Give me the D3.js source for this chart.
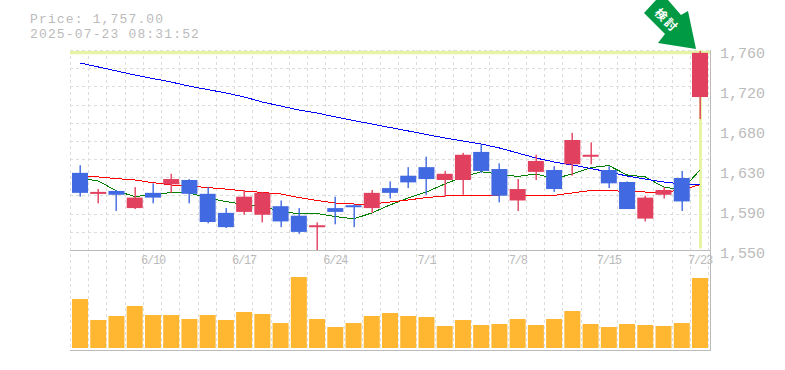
<!DOCTYPE html>
<html>
<head>
<meta charset="utf-8">
<script src="https://cdn.jsdelivr.net/npm/d3@7"></script>
<style>
  html, body { margin: 0; padding: 0; background: #fff; overflow: hidden; }
  text { font-family: "Liberation Mono", monospace; fill: #bbb; }
  .grid { stroke: #ddd; stroke-width: 1; stroke-dasharray: 3 3; shape-rendering: crispEdges; }
</style>
</head>
<body>
<div id="chart"></div>
<script>
const W = 785, H = 370;

const dates = ['6/4','6/5','6/6','6/9','6/10','6/11','6/12','6/13','6/16','6/17','6/18','6/19','6/20','6/23','6/24','6/25','6/26','6/27','6/30','7/1','7/2','7/3','7/4','7/7','7/8','7/9','7/10','7/11','7/14','7/15','7/16','7/17','7/18','7/22','7/23'];
const dateLabels = ['6/10','6/17','6/24','7/1','7/8','7/15','7/23'];

const open  = [1631,1609,1612,1594,1610,1619,1623.5,1609,1589,1590,1587,1596,1586,1574,1594,1597,1594,1615,1628,1637,1623.5,1623.5,1653,1635,1602,1632,1634,1640,1648,1634,1621.4,1583,1608,1625.6,1710.6];
const close = [1610,1611,1608,1605,1605,1624.5,1609,1579.4,1574,1606,1610,1580,1569,1576,1590,1595,1610,1610,1621,1624.5,1630,1650,1633,1607,1614,1643.5,1614,1665.5,1650,1620,1593,1605,1613,1601,1757];
const high  = [1639,1614,1613,1616,1620,1630,1624.5,1616,1594,1613,1611,1602,1594,1579,1606,1598,1613,1622,1637,1648,1633,1652,1661,1641,1624.5,1650,1638,1673,1663,1638,1622,1607,1616,1633,1759];
const low   = [1606,1599,1591,1593,1599,1610,1599,1578,1573,1587,1579,1574,1567,1550,1577,1574,1589,1604,1615,1608,1606,1608,1631,1600,1591,1623.5,1611,1628,1640,1615,1593,1580,1604,1591,1687.5];

const maShort = [1625.6,1622.5,1612,1606.2,1607.8,1610.4,1609.9,1604.6,1600.9,1597.8,1595.2,1591,1587.8,1588.3,1585.2,1582.6,1588.9,1597.3,1604.6,1610.9,1619.3,1626.7,1632.2,1629.8,1627.2,1629.8,1624.9,1629.8,1636.4,1638.7,1628.8,1626.7,1616.2,1613,1634];
const maMid   = [1627.2,1626.7,1625,1623.5,1620.7,1618.3,1617.2,1615.6,1614,1612,1610.4,1608.8,1605.1,1602,1599.4,1598.3,1598.3,1600.4,1602.5,1605.1,1606.7,1607,1607,1606.7,1606.7,1607,1607.4,1609.9,1612.5,1612.5,1611.4,1610.9,1610.9,1613,1618.6];
const maLong  = [1746.4,1742.2,1738,1733.8,1730,1726.4,1722,1718.5,1714.9,1710.7,1705.4,1701.2,1697,1693.9,1689.7,1686,1682.3,1678.6,1675,1671.3,1667.6,1664.5,1661.3,1657.1,1651.9,1646.6,1642.4,1639.3,1635.6,1631.9,1627.7,1624.5,1621.4,1619.3,1619.3];

const volume = [49,28,32,42,33,33,29,33,28,36,34,25,71,29,21,25,32,35,32,31,22,28,23,24,29,23,29,37,24,21,24,23,22,25,70];

const priceTicks = [1760,1718,1676,1634,1592,1550];
const priceTickLabels = ['1,760','1,720','1,680','1,630','1,590','1,550'];
const lastPrice = 1757;

const UP = '#e2405f', DOWN = '#4169e1';
const LEFT = 70, RIGHT = 710, TOP = 50, MID = 250, VOL_BASE = 348, BOTTOM = 350;

const svg = d3.select('#chart').append('svg').attr('width', W).attr('height', H);

const x = d3.scaleBand().domain(dates).range([LEFT + 0.9, RIGHT - 0.9]).paddingInner(0).paddingOuter(0);
const cx = d => x(d) + x.bandwidth() / 2;
const y = d3.scaleLinear().domain([1550, 1760]).range([MID, TOP]);
const yVol = d3.scaleLinear().domain([0, 100]).range([VOL_BASE, VOL_BASE - 100]);

// grid
const gridCols = d3.range(dates.length + 1).map(i => Math.round(LEFT + i * x.step()));
svg.append('g').selectAll('line').data(gridCols).join('line')
  .attr('class', 'grid')
  .attr('x1', d => d).attr('x2', d => d)
  .attr('y1', TOP).attr('y2', BOTTOM);
const gridRows = d3.range(0, 11).map(i => Math.round(TOP + i * (MID - TOP) / 11));
svg.append('g').selectAll('line').data(gridRows).join('line')
  .attr('class', 'grid')
  .attr('x1', LEFT).attr('x2', RIGHT)
  .attr('y1', d => d).attr('y2', d => d);

// last price crosshair
svg.append('rect').attr('x', LEFT).attr('y', y(lastPrice) - 2)
  .attr('width', RIGHT - LEFT).attr('height', 3.4).attr('fill', '#e6f5a5');
svg.append('rect').attr('x', cx('7/23') - 1).attr('y', TOP)
  .attr('width', 3).attr('height', 198.5).attr('fill', '#e6f5a5');

// frame
const frame = svg.append('g').attr('stroke', '#bbb').attr('shape-rendering', 'crispEdges');
frame.append('line').attr('x1', LEFT).attr('x2', RIGHT).attr('y1', MID + 0.5).attr('y2', MID + 0.5);
frame.append('line').attr('x1', LEFT).attr('x2', RIGHT).attr('y1', BOTTOM + 0.5).attr('y2', BOTTOM + 0.5);
frame.append('line').attr('x1', RIGHT + 0.5).attr('x2', RIGHT + 0.5).attr('y1', TOP).attr('y2', BOTTOM + 1);

// volume
svg.append('g').selectAll('rect').data(dates).join('rect')
  .attr('x', d => cx(d) - 8)
  .attr('width', 16)
  .attr('y', (d, i) => yVol(volume[i]))
  .attr('height', (d, i) => VOL_BASE - yVol(volume[i]))
  .attr('fill', '#ffb732');

// moving averages, stair stepped like the original
const line = d3.line().x((d, i) => cx(dates[i])).y(d => y(d));
[[maShort, 'green'], [maMid, 'red'], [maLong, 'blue']].forEach(([s, c]) => {
  svg.append('path').attr('d', line(s)).attr('fill', 'none').attr('stroke', c)
    .attr('stroke-width', 1).attr('shape-rendering', 'crispEdges');
});

// candles
const candles = svg.append('g').selectAll('g').data(dates).join('g')
  .attr('fill', (d, i) => close[i] >= open[i] ? UP : DOWN);
candles.append('rect')
  .attr('x', d => Math.round(cx(d)) - 0.5).attr('width', 1.4)
  .attr('y', (d, i) => y(high[i]))
  .attr('height', (d, i) => y(low[i]) - y(high[i]));
candles.append('rect')
  .attr('x', d => cx(d) - 8).attr('width', 16)
  .attr('y', (d, i) => y(Math.max(open[i], close[i])))
  .attr('height', (d, i) => Math.max(2, Math.abs(y(open[i]) - y(close[i]))));

// price axis labels (sit just under their tick)
svg.append('g').selectAll('text').data(priceTicks).join('text')
  .attr('x', 720).attr('y', d => y(d) + 8)
  .style('font-size', '15px')
  .text((d, i) => priceTickLabels[i]);

// date labels
svg.append('g').selectAll('text').data(dateLabels).join('text')
  .attr('x', d => cx(d)).attr('y', 264)
  .attr('text-anchor', 'middle')
  .style('font-size', '12px').style('letter-spacing', '-1.2px')
  .text(d => d);

// header
svg.append('text').attr('x', 30).attr('y', 22.5)
  .style('font-size', '13px').style('letter-spacing', '1.15px').text('Price: 1,757.00');
svg.append('text').attr('x', 30).attr('y', 37.5)
  .style('font-size', '13px').style('letter-spacing', '1.15px').text('2025-07-23 08:31:52');

// arrow marker
const arrow = [[644, 13], [656, 0], [668, 0], [681, 15], [688, 11], [696, 49], [658, 43], [665, 34]];
svg.append('polygon').attr('points', arrow.join(' ')).attr('fill', '#009944');
svg.append('text').attr('transform', 'translate(666.5,20.5) rotate(45)')
  .attr('text-anchor', 'middle').attr('dy', '0.35em')
  .style('font-family', '"Noto Sans CJK JP"').style('font-size', '12px')
  .style('letter-spacing', '2px')
  .style('font-weight', 'bold').style('fill', '#fff')
  .text('検討');
</script>
</body>
</html>
